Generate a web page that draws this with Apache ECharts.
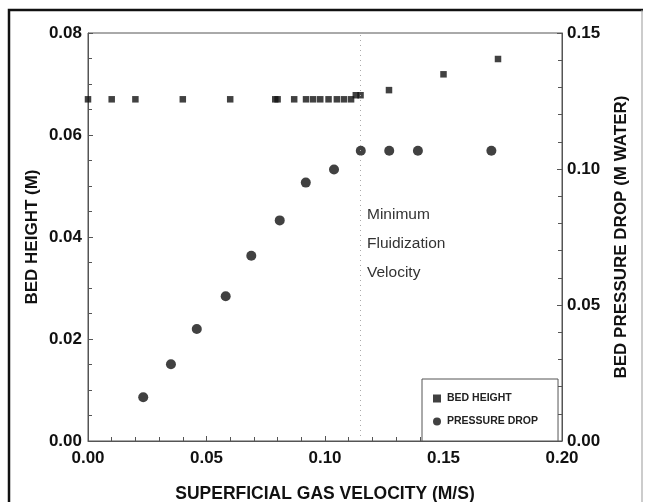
<!DOCTYPE html>
<html>
<head>
<meta charset="utf-8">
<script src="https://cdn.jsdelivr.net/npm/echarts@6/dist/echarts.min.js"></script>
<style>
  html, body { margin: 0; padding: 0; background: #fff; }
  #chart { width: 649px; height: 502px; }
</style>
</head>
<body>
<div id="chart"></div>
<script>
// bed height (left axis, m) vs superficial gas velocity (m/s)
var heightVel = [0, 0.01, 0.02, 0.04, 0.06, 0.079, 0.080, 0.087, 0.092, 0.095, 0.098, 0.1015, 0.105, 0.108, 0.111, 0.113, 0.115, 0.127, 0.150, 0.173];
var heightVal = [0.067, 0.067, 0.067, 0.067, 0.067, 0.067, 0.067, 0.067, 0.067, 0.067, 0.067, 0.067, 0.067, 0.067, 0.067, 0.0678, 0.0678, 0.0688, 0.0719, 0.0749];

// bed pressure drop (right axis, m water)
var pressVel = [0.0233, 0.035, 0.0459, 0.0581, 0.0689, 0.0809, 0.0919, 0.1038, 0.1151, 0.1271, 0.1392, 0.1702];
var pressVal = [0.0161, 0.0282, 0.0412, 0.0532, 0.0681, 0.0811, 0.0950, 0.0998, 0.1067, 0.1067, 0.1067, 0.1067];

var umf = 0.115;
var noteLines = ['Minimum', 'Fluidization', 'Velocity'];

function pairs(xs, ys) {
    var out = [];
    for (var i = 0; i < xs.length; i++) {
        out.push([xs[i], ys[i]]);
    }
    return out;
}

var fontFam = '"Liberation Sans", Arial, sans-serif';
var axisCol = '#555';

var chart = echarts.init(document.getElementById('chart'));

var option = {
    animation: false,
    backgroundColor: '#fff',
    grid: {
        left: 88, right: 87, top: 33, bottom: 61,
        outerBoundsMode: 'none',
        containLabel: false,
        show: true, borderColor: axisCol, borderWidth: 1
    },
    xAxis: {
        type: 'value',
        min: 0, max: 0.2, interval: 0.05,
        name: 'SUPERFICIAL GAS VELOCITY (M/S)',
        nameLocation: 'middle',
        nameMoveOverlap: false,
        nameGap: 44,
        nameTextStyle: { fontFamily: fontFam, fontWeight: 'bold', fontSize: 17.5, color: '#111' },
        axisLine: { lineStyle: { color: axisCol, width: 1 } },
        axisTick: { inside: true, length: 5, lineStyle: { color: axisCol } },
        minorTick: { show: true, splitNumber: 5, length: 4, lineStyle: { color: axisCol } },
        splitLine: { show: false },
        axisLabel: {
            margin: 9, fontFamily: fontFam, fontWeight: 'bold', fontSize: 17, color: '#111',
            formatter: function (v) { return v.toFixed(2); }
        }
    },
    yAxis: [
        {
            type: 'value',
            min: 0, max: 0.08, interval: 0.02,
            name: 'BED HEIGHT (M)',
            nameLocation: 'middle',
            nameMoveOverlap: false,
            nameGap: 47,
            nameTextStyle: { fontFamily: fontFam, fontWeight: 'bold', fontSize: 17, color: '#111' },
            axisLine: { show: true, lineStyle: { color: axisCol, width: 1 } },
            axisTick: { show: true, inside: true, length: 5, lineStyle: { color: axisCol } },
            minorTick: { show: true, splitNumber: 4, length: 4, lineStyle: { color: axisCol } },
            splitLine: { show: false },
            axisLabel: {
                margin: 6, fontFamily: fontFam, fontWeight: 'bold', fontSize: 17, color: '#111',
                formatter: function (v) { return v.toFixed(2); }
            }
        },
        {
            type: 'value',
            position: 'right',
            min: 0, max: 0.15, interval: 0.05,
            name: 'BED PRESSURE DROP (M WATER)',
            nameLocation: 'middle',
            nameMoveOverlap: false,
            nameGap: 51,
            nameRotate: 90,
            nameTextStyle: { fontFamily: fontFam, fontWeight: 'bold', fontSize: 17, color: '#111' },
            axisLine: { show: true, lineStyle: { color: axisCol, width: 1 } },
            axisTick: { show: true, inside: true, length: 5, lineStyle: { color: axisCol } },
            minorTick: { show: true, splitNumber: 5, length: 4, lineStyle: { color: axisCol } },
            splitLine: { show: false },
            axisLabel: {
                margin: 5, fontFamily: fontFam, fontWeight: 'bold', fontSize: 17, color: '#111',
                formatter: function (v) { return v.toFixed(2); }
            }
        }
    ],
    legend: {
        left: 422, top: 379, width: 126, height: 46,
        orient: 'vertical',
        backgroundColor: '#fff',
        borderColor: axisCol, borderWidth: 1,
        padding: [14, 20, 14, 11],
        itemGap: 12,
        itemWidth: 8, itemHeight: 8,
        textStyle: { fontFamily: fontFam, fontWeight: 'bold', fontSize: 10.5, color: '#222', padding: [0, 0, 0, 1] },
        data: [
            { name: 'BED HEIGHT', icon: 'rect' },
            { name: 'PRESSURE DROP', icon: 'circle' }
        ]
    },
    series: [
        {
            name: 'BED HEIGHT',
            type: 'scatter',
            yAxisIndex: 0,
            symbol: 'rect',
            symbolSize: 6.5,
            itemStyle: { color: '#111' },
            data: pairs(heightVel, heightVal),
            markLine: {
                silent: true,
                symbol: 'none',
                label: { show: false },
                lineStyle: { color: '#aaa', type: [1, 4], width: 1 },
                data: [[{ coord: [umf, 0] }, { coord: [umf, 0.08] }]]
            },
            z: 3
        },
        {
            name: 'PRESSURE DROP',
            type: 'scatter',
            yAxisIndex: 1,
            symbol: 'circle',
            symbolSize: 10,
            itemStyle: { color: '#111' },
            data: pairs(pressVel, pressVal),
            z: 3
        }
    ],
    graphic: [
        // page frame
        { type: 'polyline', shape: { points: [[9, 502], [9, 10], [643, 10]] }, style: { stroke: '#111', lineWidth: 2.5, fill: null }, z: 10 },
        { type: 'line', shape: { x1: 642, y1: 10, x2: 642, y2: 502 }, style: { stroke: '#999', lineWidth: 1 }, z: 10 },
        // annotation
        {
            type: 'group', left: 367, top: 207, children: noteLines.map(function (t, i) {
                return { type: 'text', x: 0, y: i * 29, style: { text: t, fontFamily: fontFam, fontSize: 15.5, fill: '#333' } };
            })
        }
    ]
};

chart.setOption(option);
</script>
</body>
</html>
